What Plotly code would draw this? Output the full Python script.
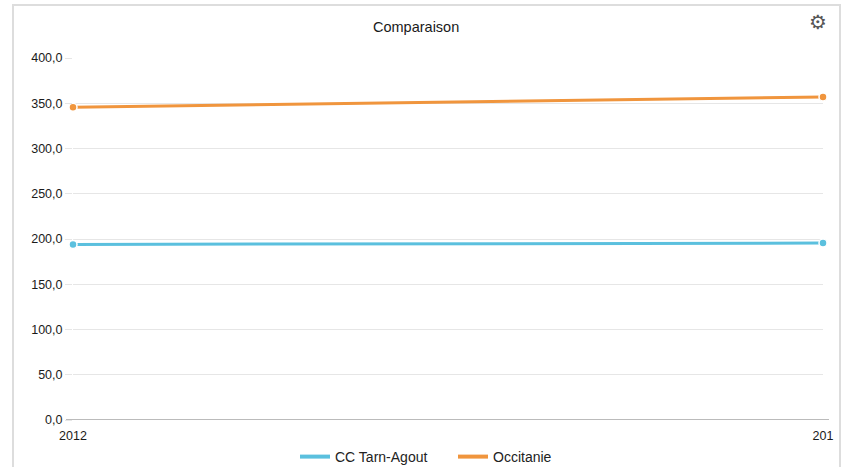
import plotly.graph_objects as go

# Data
periods = ["2012", "201"]
tarn_agout = [194.0, 195.5]
occitanie = [345.5, 357.0]
y_ticks = [0, 50, 100, 150, 200, 250, 300, 350, 400]

series_names = ["CC Tarn-Agout", "Occitanie"]
series_colors = ["#5BC0DE", "#F0953D"]

W, H = 843, 467
L, R, T, B = 73, 20, 58, 47
pw, ph = W - L - R, H - T - B


def px_x(x):
    return (x - L) / pw


def px_y(y):
    return (H - B - y) / ph


fig = go.Figure()
for name, vals, col in zip(series_names, [tarn_agout, occitanie], series_colors):
    fig.add_trace(go.Scatter(
        x=[0, 1], y=vals, name=name, mode="lines+markers",
        line=dict(color=col, width=3),
        marker=dict(size=8, color=col, line=dict(color="white", width=1.5)),
        cliponaxis=False, showlegend=False,
    ))
    # legend entry drawn as a plain line
    fig.add_trace(go.Scatter(
        x=[None], y=[None], name=name, mode="lines",
        line=dict(color=col, width=4), showlegend=True,
    ))

tick_font = dict(family="Liberation Sans, Arial, sans-serif", size=12.5, color="#1a1a1a")

fig.update_layout(
    width=W, height=H,
    margin=dict(l=L, r=R, t=T, b=B, autoexpand=False),
    paper_bgcolor="white", plot_bgcolor="white",
    font=dict(family="Liberation Sans, Arial, sans-serif", size=12, color="#222222"),
    separators=", ",
    showlegend=True,
    legend=dict(orientation="h", x=px_x(453), xanchor="center",
                y=px_y(457), yanchor="middle",
                font=dict(size=14, color="#222222"),
                tracegroupgap=0, entrywidth=113, entrywidthmode="pixels",
                bgcolor="rgba(0,0,0,0)"),
    xaxis=dict(
        range=[0, 1], tickmode="array", tickvals=[0, 1], ticktext=periods,
        showgrid=True, gridcolor="#e6e6e6", gridwidth=1,
        zeroline=False, showline=False,
        ticks="outside", ticklen=4, tickcolor="rgba(0,0,0,0)",
        tickfont=tick_font,
    ),
    yaxis=dict(
        range=[0, 400], tickmode="array", tickvals=y_ticks,
        tickformat=".1f",
        showgrid=True, gridcolor="#e6e6e6", gridwidth=1,
        zeroline=False, showline=False,
        ticks="outside", ticklen=7, tickcolor="#e6e6e6",
        tickfont=tick_font,
    ),
    shapes=[
        # outer frame
        dict(type="rect", xref="paper", yref="paper",
             x0=px_x(13), x1=px_x(840), y0=px_y(480), y1=px_y(5),
             line=dict(color="#dddddd", width=2), fillcolor="rgba(0,0,0,0)", layer="below"),
        # baseline at zero
        dict(type="line", xref="paper", yref="y",
             x0=px_x(66), x1=px_x(829), y0=0, y1=0,
             line=dict(color="#bbbbbb", width=2), layer="below"),
    ],
    annotations=[
        dict(text="Comparaison", xref="paper", yref="paper",
             x=px_x(415.5), y=px_y(27), xanchor="center", yanchor="middle",
             showarrow=False, font=dict(size=14.5, color="#1a1a1a")),
        dict(text="⚙", xref="paper", yref="paper",
             x=px_x(818), y=px_y(22), xanchor="center", yanchor="middle",
             showarrow=False, font=dict(family="DejaVu Sans", size=20, color="#555555")),
    ],
)

fig.write_html("out.html")
